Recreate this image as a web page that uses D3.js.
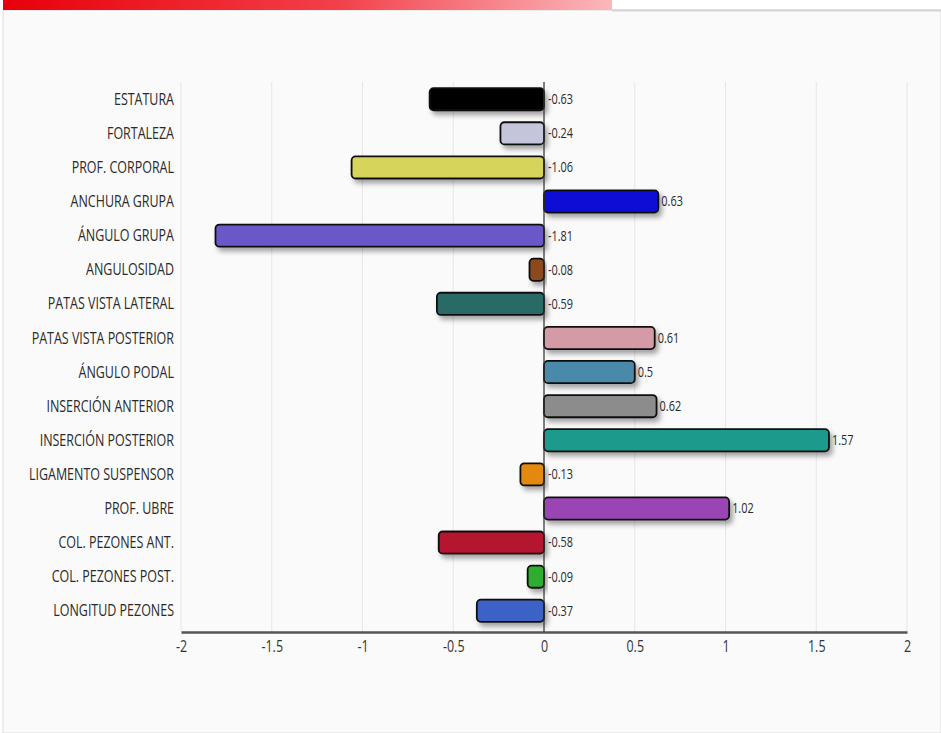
<!DOCTYPE html>
<html>
<head>
<meta charset="utf-8">
<script src="https://cdn.jsdelivr.net/npm/d3@7"></script>
<style>
  body { margin: 0; background: #ffffff; }
  svg text { font-family: "Open Sans", sans-serif; }
</style>
</head>
<body>
<div id="chart"></div>
<script>
// chart data
var categories = ["ESTATURA", "FORTALEZA", "PROF. CORPORAL", "ANCHURA GRUPA", "ÁNGULO GRUPA",
  "ANGULOSIDAD", "PATAS VISTA LATERAL", "PATAS VISTA POSTERIOR", "ÁNGULO PODAL",
  "INSERCIÓN ANTERIOR", "INSERCIÓN POSTERIOR", "LIGAMENTO SUSPENSOR", "PROF. UBRE",
  "COL. PEZONES ANT.", "COL. PEZONES POST.", "LONGITUD PEZONES"];
var values = [-0.63, -0.24, -1.06, 0.63, -1.81, -0.08, -0.59, 0.61, 0.5, 0.62, 1.57, -0.13, 1.02, -0.58, -0.09, -0.37];
var colors = ["#050505", "#c4c4da", "#d6d45a", "#0a0ad6", "#6a58c8", "#8b4a1c", "#2a6b66", "#d49aa6",
  "#4a8aab", "#8c8c8c", "#1f9a8c", "#e3890f", "#9a44b4", "#b3122e", "#2fae2f", "#3c62c6"];
var ticks = [-2, -1.5, -1, -0.5, 0, 0.5, 1, 1.5, 2];

var W = 941, H = 733;
var squeeze = 0.78;   // the original font is a narrow one

var svg = d3.select("#chart").append("svg")
  .attr("width", W)
  .attr("height", H);

// page frame
var defs = svg.append("defs");
var grad = defs.append("linearGradient").attr("id", "hdr");
grad.append("stop").attr("offset", "0%").attr("stop-color", "#e8000a");
grad.append("stop").attr("offset", "55%").attr("stop-color", "#f2404a");
grad.append("stop").attr("offset", "100%").attr("stop-color", "#fbb8bc");

var shadow = defs.append("filter").attr("id", "shadow")
  .attr("x", "-10%").attr("y", "-30%").attr("width", "130%").attr("height", "180%");
shadow.append("feDropShadow").attr("dx", 3).attr("dy", 4).attr("stdDeviation", 2.5)
  .attr("flood-color", "#000").attr("flood-opacity", 0.35);

svg.append("rect").attr("x", 3).attr("y", 10).attr("width", W - 3).attr("height", H - 10)
  .style("fill", "#fafafa").style("stroke", "#dcdcdc");
svg.append("rect").attr("x", 3).attr("y", 0).attr("width", 609).attr("height", 10)
  .style("fill", "url(#hdr)");
svg.append("line").attr("x1", 612).attr("x2", W).attr("y1", 10.5).attr("y2", 10.5)
  .style("stroke", "#d4d4d4").style("stroke-width", 2);

// scales
var x = d3.scaleLinear().domain([-2, 2]).range([181, 907]);
var y = d3.scaleBand().domain(categories).range([82, 628]).paddingInner(0.35).paddingOuter(0.18);

// grid
svg.selectAll(".grid").data(ticks).enter()
  .append("line")
    .attr("class", "grid")
    .attr("x1", function (d) { return x(d); })
    .attr("x2", function (d) { return x(d); })
    .attr("y1", 82)
    .attr("y2", 632)
    .style("stroke", "#e6e6e6");

// x axis
var xAxis = svg.append("g")
  .attr("transform", "translate(0,632)")
  .call(d3.axisBottom(x).tickValues(ticks).tickSize(0).tickPadding(9)
    .tickFormat(function (d) { return String(d); }));
xAxis.select(".domain").style("stroke", "#555").style("stroke-width", 2.5);
xAxis.selectAll("text")
  .style("font-size", "16px")
  .style("fill", "#333")
  .attr("transform", "scale(" + squeeze + ",1)");

// y labels
function narrow (tx, ty) {
  return "translate(" + tx + "," + ty + ") scale(" + squeeze + ",1)";
}

svg.selectAll(".cat").data(categories).enter()
  .append("text")
    .attr("class", "cat")
    .attr("transform", function (d) { return narrow(174, y(d) + y.bandwidth() / 2); })
    .attr("dy", "0.35em")
    .attr("text-anchor", "end")
    .style("font-size", "16px")
    .style("fill", "#2a2a2a")
    .text(function (d) { return d; });

// bars
svg.selectAll(".bar").data(values).enter()
  .append("rect")
    .attr("class", "bar")
    .attr("x", function (d) { return Math.min(x(0), x(d)); })
    .attr("y", function (d, i) { return y(categories[i]); })
    .attr("width", function (d) { return Math.abs(x(d) - x(0)); })
    .attr("height", y.bandwidth())
    .attr("rx", 4)
    .style("fill", function (d, i) { return colors[i]; })
    .style("stroke", "#111")
    .style("stroke-width", 1.8)
    .attr("filter", "url(#shadow)");

// zero line
svg.append("line")
  .attr("x1", x(0)).attr("x2", x(0))
  .attr("y1", 82).attr("y2", 632)
  .style("stroke", "#333").style("stroke-width", 1.2);

// value labels
svg.selectAll(".val").data(values).enter()
  .append("text")
    .attr("class", "val")
    .attr("transform", function (d, i) {
      return narrow(d > 0 ? x(d) + 3 : x(0) + 4, y(categories[i]) + y.bandwidth() / 2);
    })
    .attr("dy", "0.35em")
    .style("font-size", "14px")
    .style("fill", "#2a2a2a")
    .text(function (d) { return d; });
</script>
</body>
</html>
